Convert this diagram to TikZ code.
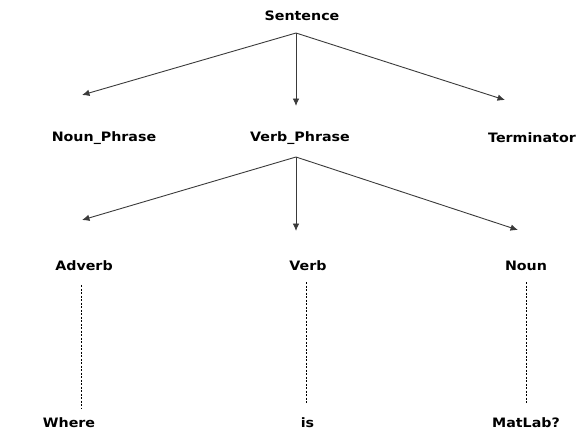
\documentclass[tikz,border=0pt]{standalone}
\usepackage{fontspec}
\usetikzlibrary{arrows.meta}
\newfontfamily\lblfont[FakeStretch=1.1]{DejaVu Sans}
\definecolor{edgegray}{HTML}{3A3A3A}
\begin{document}
\begin{tikzpicture}[x=1bp,y=-1bp,
  word/.style={inner sep=0pt,font=\lblfont\bfseries\fontsize{13}{15}\selectfont,text=black,anchor=center},
  branch/.style={draw=edgegray,line width=0.9bp,-{Latex[length=7.5bp,width=6.5bp]}},
  leaf/.style={draw=black,line width=0.8bp,dash pattern=on 2.2bp off 1.3bp}]
\useasboundingbox (0,0) rectangle (586,431);

% words
\node[word] (sent) at (302,16) {Sentence};
\node[word] (np) at (104,138) {Noun\_Phrase};
\node[word] (vp) at (300,138) {Verb\_Phrase};
\node[word] (term) at (532,138) {Terminator};
\node[word] (adv) at (84,266) {Adverb};
\node[word] (verb) at (308,266) {Verb};
\node[word] (noun) at (526,266) {Noun};
\node[word] (where) at (69,423) {Where};
\node[word] (is) at (307.5,423) {is};
\node[word] (matlab) at (526,423) {MatLab?};

% branch points and arrow tips
\coordinate (sfork) at (296,33);
\coordinate (nptip) at (82,95);
\coordinate (vptip) at (296,106);
\coordinate (termtip) at (505,100);
\coordinate (vfork) at (296,157);
\coordinate (advtip) at (82,220);
\coordinate (verbtip) at (296,231);
\coordinate (nountip) at (518,230);

\draw[branch] (sfork) -- (nptip);
\draw[branch] (sfork) -- (vptip);
\draw[branch] (sfork) -- (termtip);
\draw[branch] (vfork) -- (advtip);
\draw[branch] (vfork) -- (verbtip);
\draw[branch] (vfork) -- (nountip);

% dashed links down to the words
\coordinate (a1) at (81,285);
\coordinate (a2) at (81,408);
\coordinate (b1) at (306,282);
\coordinate (b2) at (306,404);
\coordinate (c1) at (526,282);
\coordinate (c2) at (526,404);
\draw[leaf] (a1) -- (a2);
\draw[leaf] (b1) -- (b2);
\draw[leaf] (c1) -- (c2);
\end{tikzpicture}
\end{document}
